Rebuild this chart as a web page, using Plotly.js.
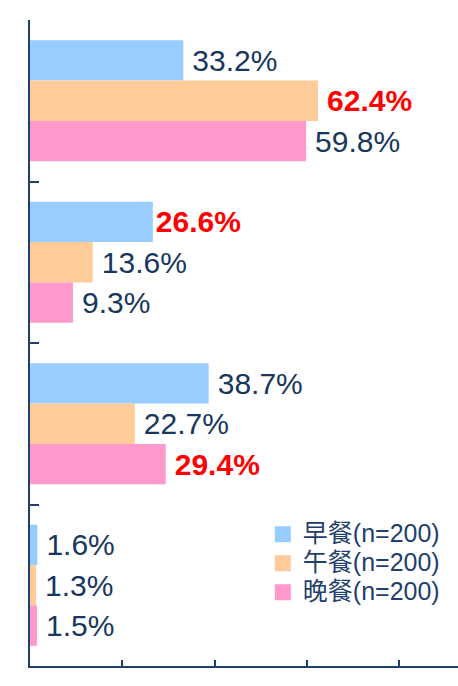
<!DOCTYPE html>
<html>
<head>
<meta charset="utf-8">
<script src="https://cdn.plot.ly/plotly-3.0.1.min.js"></script>
<style>html,body{margin:0;padding:0;background:#fff;}#chart{width:458px;height:686px;}</style>
</head>
<body>
<div id="chart"></div>
<script>
// Categories (not labelled in the reference)
const categories = ['項目1', '項目2', '項目3', '項目4'];
const seriesNames = ['早餐(n=200)', '午餐(n=200)', '晚餐(n=200)'];
const breakfast = [33.2, 26.6, 38.7, 1.6];
const lunch = [62.4, 13.6, 22.7, 1.3];
const dinner = [59.8, 9.3, 29.4, 1.5];
// which labels are highlighted (bold red) in each series
const breakfastHighlight = [false, true, false, false];
const lunchHighlight = [true, false, false, false];
const dinnerHighlight = [false, false, true, false];

const colors = ['#99CCFF', '#FFCC99', '#FF99CC'];
const navy = '#17375E';
const red = '#FF0000';
const fontFam = '"Liberation Sans", Arial, "Noto Sans CJK TC", sans-serif';

function makeTrace(name, values, highlight, color) {
  return {
    type: 'bar',
    orientation: 'h',
    name: name,
    legendgroup: name,
    showlegend: false,
    y: categories,
    x: values,
    marker: {color: color},
    text: values.map((v, i) => highlight[i]
      ? (i === 1 ? '' : '\u2009') + '<b>' + v.toFixed(1) + '%</b>'
      : '\u2009' + v.toFixed(1) + '%'),
    textposition: 'outside',
    constraintext: 'none',
    cliponaxis: false,
    textfont: {
      family: fontFam,
      size: 30,
      color: highlight.map(h => h ? red : navy)
    },
    hoverinfo: 'none'
  };
}

// legend-only entries (on a hidden overlay subplot so they do not take bar slots)
function legendTrace(name, color) {
  return {
    type: 'bar',
    orientation: 'h',
    name: '<span style="font-size:25px">' + name + '</span>',
    legendgroup: name,
    x: [null],
    y: [null],
    xaxis: 'x2',
    yaxis: 'y2',
    marker: {color: color, line: {color: color, width: 4}},
    hoverinfo: 'none'
  };
}

const data = [
  makeTrace(seriesNames[0], breakfast, breakfastHighlight, colors[0]),
  makeTrace(seriesNames[1], lunch, lunchHighlight, colors[1]),
  makeTrace(seriesNames[2], dinner, dinnerHighlight, colors[2]),
  legendTrace(seriesNames[0], colors[0]),
  legendTrace(seriesNames[1], colors[1]),
  legendTrace(seriesNames[2], colors[2])
];

const axisColor = '#1F3F6F';
const layout = {
  width: 458,
  height: 686,
  margin: {l: 30, r: 0, t: 20, b: 20, pad: 0},
  paper_bgcolor: '#fff',
  plot_bgcolor: '#fff',
  barmode: 'group',
  bargap: 0.25,
  bargroupgap: 0,
  showlegend: true,
  font: {family: fontFam, color: navy},
  xaxis: {
    range: [0, 92.7],
    showgrid: false,
    zeroline: false,
    showline: true,
    linecolor: axisColor,
    linewidth: 2,
    ticks: 'inside',
    ticklen: 6,
    tickwidth: 2,
    tickcolor: axisColor,
    tickmode: 'array',
    tickvals: [0, 20, 40, 60, 80],
    showticklabels: false,
    fixedrange: true
  },
  yaxis: {
    type: 'category',
    autorange: 'reversed',
    showgrid: false,
    zeroline: false,
    showline: true,
    linecolor: axisColor,
    linewidth: 2,
    ticks: 'inside',
    tickson: 'boundaries',
    ticklen: 9,
    tickwidth: 2,
    tickcolor: axisColor,
    showticklabels: false,
    fixedrange: true
  },
  xaxis2: {overlaying: 'x', visible: false, fixedrange: true},
  yaxis2: {overlaying: 'y', visible: false, fixedrange: true},
  legend: {
    x: 0.544,
    y: 0.234,
    xanchor: 'left',
    yanchor: 'top',
    bgcolor: 'rgba(0,0,0,0)',
    font: {family: fontFam, size: 20, color: '#1F3F6E'},
    traceorder: 'normal',
    itemclick: false,
    itemdoubleclick: false
  }
};

Plotly.newPlot('chart', data, layout, {staticPlot: true, displayModeBar: false});
</script>
</body>
</html>
